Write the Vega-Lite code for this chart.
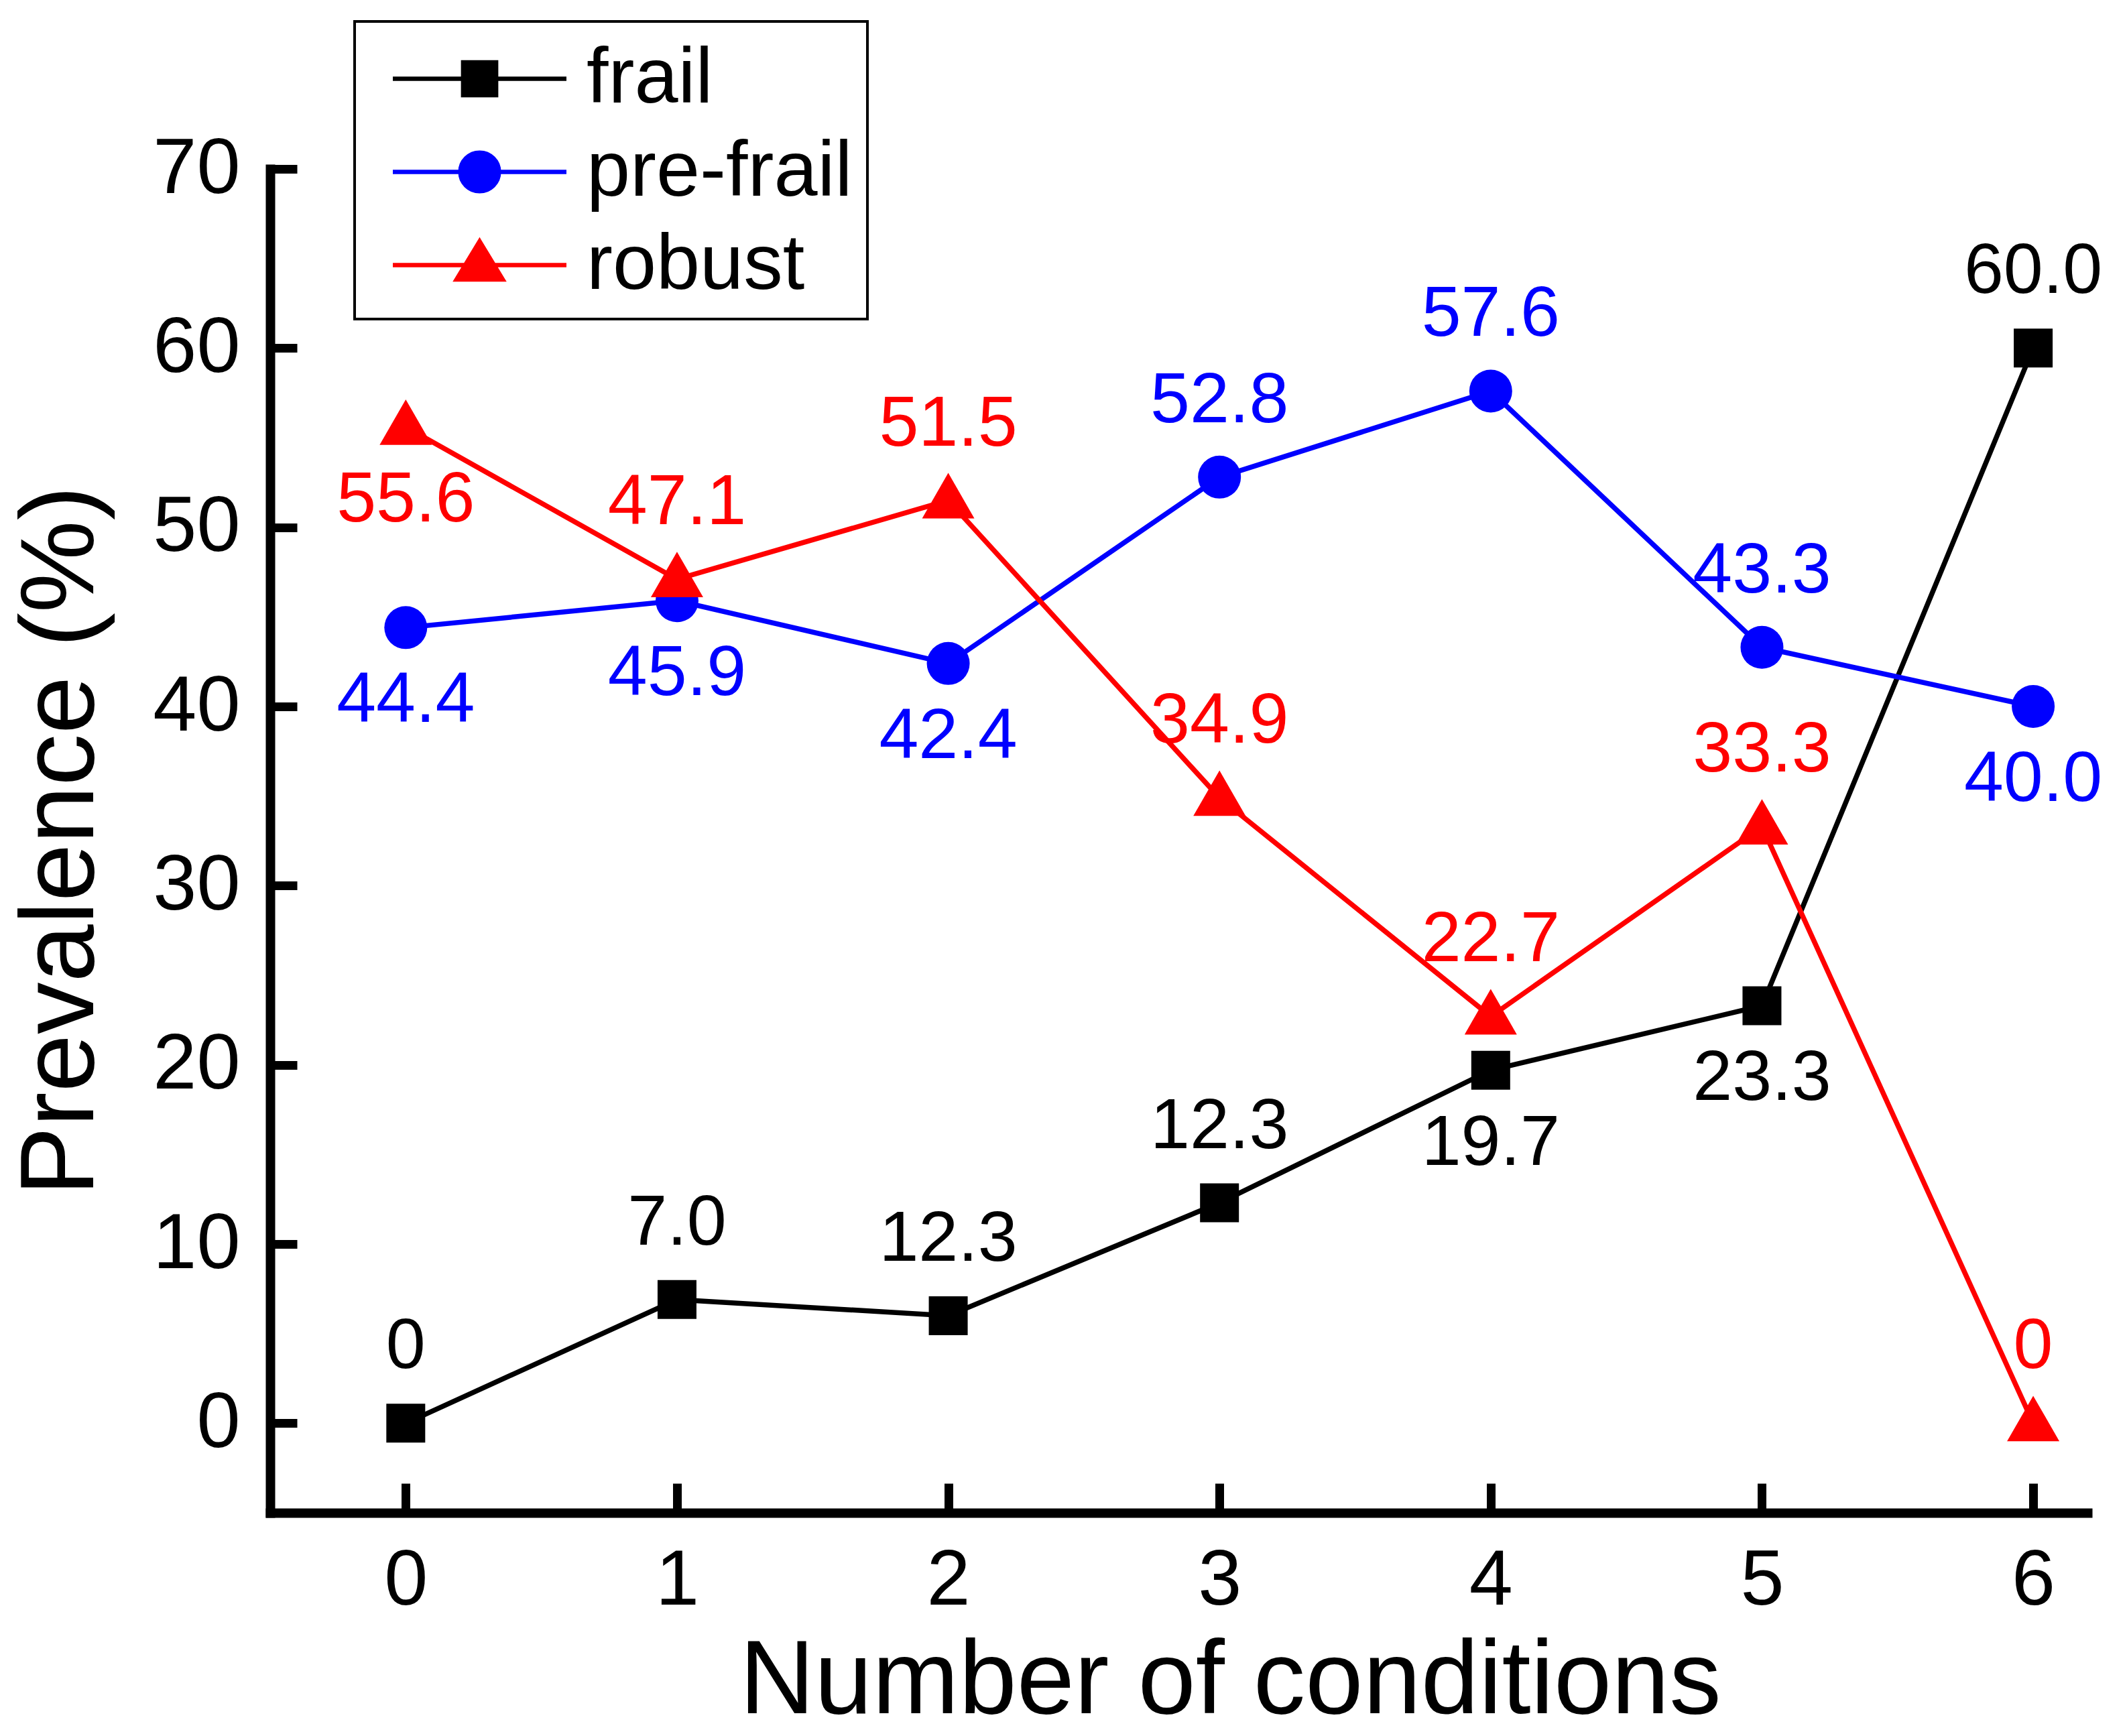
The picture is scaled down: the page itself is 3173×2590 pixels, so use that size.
{
  "$schema": "https://vega.github.io/schema/vega-lite/v6.json",
  "width": 2711,
  "height": 2005,
  "autosize": {"type": "none"},
  "padding": {"left": 403, "top": 252, "right": 59, "bottom": 333},
  "config": {
    "background": "white",
    "font": "Liberation Sans",
    "view": {"stroke": "transparent"},
    "axis": {
      "grid": false,
      "domainColor": "black",
      "domainWidth": 14,
      "domainCap": "square",
      "tickColor": "black",
      "tickWidth": 13,
      "labelColor": "black",
      "labelFont": "Liberation Sans",
      "labelFontSize": 117,
      "titleColor": "black",
      "titleFont": "Liberation Sans",
      "titleFontSize": 155,
      "titleFontWeight": "normal",
      "titleBaseline": "alphabetic"
    }
  },
  "data": {
    "values": [
      {"series": "frail", "n": 0, "value": 0, "label": "0"},
      {"series": "frail", "n": 1, "value": 6.9, "label": "7.0"},
      {"series": "frail", "n": 2, "value": 6.0, "label": "12.3"},
      {"series": "frail", "n": 3, "value": 12.3, "label": "12.3"},
      {"series": "frail", "n": 4, "value": 19.7, "label": "19.7"},
      {"series": "frail", "n": 5, "value": 23.3, "label": "23.3"},
      {"series": "frail", "n": 6, "value": 60.0, "label": "60.0"},
      {"series": "pre-frail", "n": 0, "value": 44.4, "label": "44.4"},
      {"series": "pre-frail", "n": 1, "value": 45.9, "label": "45.9"},
      {"series": "pre-frail", "n": 2, "value": 42.4, "label": "42.4"},
      {"series": "pre-frail", "n": 3, "value": 52.8, "label": "52.8"},
      {"series": "pre-frail", "n": 4, "value": 57.6, "label": "57.6"},
      {"series": "pre-frail", "n": 5, "value": 43.3, "label": "43.3"},
      {"series": "pre-frail", "n": 6, "value": 40.0, "label": "40.0"},
      {"series": "robust", "n": 0, "value": 55.6, "label": "55.6"},
      {"series": "robust", "n": 1, "value": 47.1, "label": "47.1"},
      {"series": "robust", "n": 2, "value": 51.5, "label": "51.5"},
      {"series": "robust", "n": 3, "value": 34.9, "label": "34.9"},
      {"series": "robust", "n": 4, "value": 22.7, "label": "22.7"},
      {"series": "robust", "n": 5, "value": 33.3, "label": "33.3"},
      {"series": "robust", "n": 6, "value": 0, "label": "0"}
    ]
  },
  "encoding": {
    "x": {
      "field": "n",
      "type": "quantitative",
      "scale": {"domain": [-0.5, 6.2], "nice": false, "zero": false},
      "axis": {
        "values": [0, 1, 2, 3, 4, 5, 6],
        "tickSize": -44,
        "labelPadding": 88,
        "title": "Number of conditions",
        "titleX": 1432,
        "titleY": 298
      }
    },
    "y": {
      "field": "value",
      "type": "quantitative",
      "scale": {"domain": [-5, 70], "nice": false, "zero": false},
      "axis": {
        "values": [0, 10, 20, 30, 40, 50, 60, 70],
        "tickSize": -40,
        "labelPadding": 85,
        "title": "Prevalence (%)",
        "titleX": -265,
        "titleY": 1002
      }
    },
    "color": {
      "field": "series",
      "type": "nominal",
      "scale": {
        "domain": ["frail", "pre-frail", "robust"],
        "range": ["#000000", "#0000ff", "#ff0000"]
      },
      "legend": {
        "orient": "none",
        "legendX": 126,
        "legendY": -220,
        "title": null,
        "padding": 22,
        "rowPadding": 17,
        "labelFont": "Liberation Sans",
        "labelFontSize": 117,
        "labelColor": "black",
        "labelLimit": 0,
        "labelOffset": 96,
        "symbolOffset": 101,
        "symbolSize": 14400,
        "strokeColor": "black",
        "fillColor": "white",
        "encode": {
          "legend": {"update": {"strokeWidth": {"value": 4}}},
          "symbols": {
            "update": {
              "shape": {"signal": "datum.value === 'frail' ? 'M-2.158,0H2.158M-0.41,-0.41H0.41V0.41H-0.41Z' : datum.value === 'pre-frail' ? 'M-2.158,0H2.158M-0.48,0A0.48,0.48 0 1,1 0.48,0A0.48,0.48 0 1,1 -0.48,0Z' : 'M-2.158,0H2.158M0,-0.59L0.575,0.36L-0.575,0.36Z'"},
              "size": {"value": 14400},
              "fill": {"signal": "datum.value === 'frail' ? '#000000' : datum.value === 'pre-frail' ? '#0000ff' : '#ff0000'"},
              "stroke": {"signal": "datum.value === 'frail' ? '#000000' : datum.value === 'pre-frail' ? '#0000ff' : '#ff0000'"},
              "strokeWidth": {"value": 6.5},
              "opacity": {"value": 1}
            }
          }
        }
      }
    }
  },
  "layer": [
    {
      "mark": {"type": "line", "strokeWidth": 7.5}
    },
    {
      "transform": [{"filter": "datum.series === 'frail'"}],
      "mark": {"type": "point", "shape": "square", "size": 3364, "filled": true, "opacity": 1, "strokeWidth": 0}
    },
    {
      "transform": [{"filter": "datum.series === 'pre-frail'"}],
      "mark": {"type": "point", "shape": "circle", "size": 4096, "filled": true, "opacity": 1, "strokeWidth": 0}
    },
    {
      "transform": [{"filter": "datum.series === 'robust'"}],
      "mark": {"type": "point", "shape": "M0,-1.05L1,0.69L-1,0.69Z", "size": 6084, "filled": true, "opacity": 1, "strokeWidth": 0}
    },
    {
      "transform": [
        {"filter": "!((datum.series === 'frail' && (datum.n === 4 || datum.n === 5)) || (datum.series === 'pre-frail' && (datum.n <= 2 || datum.n === 6)) || (datum.series === 'robust' && datum.n === 0))"}
      ],
      "mark": {"type": "text", "font": "Liberation Sans", "fontSize": 106, "align": "center", "baseline": "middle", "dy": -114},
      "encoding": {"text": {"field": "label"}}
    },
    {
      "transform": [
        {"filter": "(datum.series === 'frail' && (datum.n === 4 || datum.n === 5)) || (datum.series === 'pre-frail' && (datum.n <= 2 || datum.n === 6)) || (datum.series === 'robust' && datum.n === 0)"}
      ],
      "mark": {"type": "text", "font": "Liberation Sans", "fontSize": 106, "align": "center", "baseline": "middle", "dy": 109},
      "encoding": {"text": {"field": "label"}}
    }
  ]
}
